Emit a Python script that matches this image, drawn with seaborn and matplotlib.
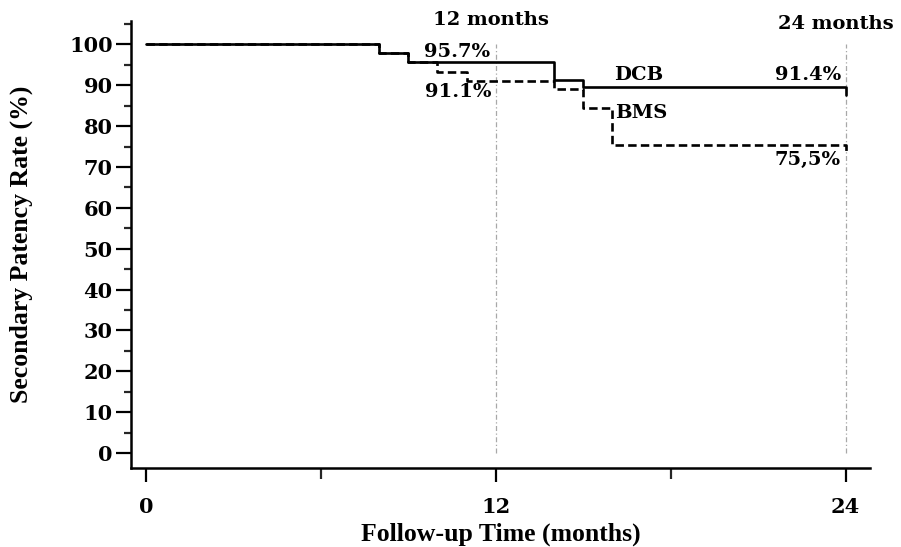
import matplotlib
matplotlib.use("Agg")
import matplotlib.pyplot as plt
import seaborn as sns
import pandas as pd
from matplotlib.ticker import MultipleLocator

# ---- data ----
dcb_time = [0, 8, 9, 14, 15, 24]
dcb_rate = [100, 97.9, 95.8, 91.3, 89.5, 87.6]
bms_time = [0, 8, 9, 10, 11, 14, 15, 16, 24]
bms_rate = [100, 97.9, 95.8, 93.3, 91.1, 89.0, 84.4, 75.4, 73.7]
x_ticks = [0, 12, 24]
y_ticks = list(range(0, 101, 10))
ref_months = [12, 24]
ref_labels = ["12 months", "24 months"]

sns.set_theme(style="ticks")
plt.rcParams['font.family'] = ['DejaVu Serif', 'DejaVu Sans']

fig = plt.figure(figsize=(9.01, 5.47), dpi=100)
ax = fig.add_axes([0.145, 0.1444, 0.8206, 0.8172])

df_dcb = pd.DataFrame({"t": dcb_time, "r": dcb_rate})
df_bms = pd.DataFrame({"t": bms_time, "r": bms_rate})

sns.lineplot(data=df_bms, x="t", y="r", ax=ax, drawstyle="steps-post",
             color="black", lw=1.9, linestyle=(0, (3.2, 1.6)),
             estimator=None, sort=False)
sns.lineplot(data=df_dcb, x="t", y="r", ax=ax, drawstyle="steps-post",
             color="black", lw=1.9, estimator=None, sort=False)

for m in ref_months:
    ax.vlines(m, 0, 100, colors="#a8a8a8", linestyles=(0, (4, 2, 1, 2)), lw=0.9, zorder=0)

ax.set_xlim(-0.525, 24.84)
ax.set_ylim(-3.67, 105.75)
ax.set_xticks(x_ticks)
ax.set_yticks(y_ticks)
ax.xaxis.set_minor_locator(MultipleLocator(6))
ax.yaxis.set_minor_locator(MultipleLocator(5))

for s in ["top", "right"]:
    ax.spines[s].set_visible(False)
for s in ["left", "bottom"]:
    ax.spines[s].set_linewidth(1.8)
    ax.spines[s].set_color("black")

ax.tick_params(axis="y", which="major", direction="out", length=11, width=1.6,
               pad=2, labelsize=15, colors="black")
ax.tick_params(axis="y", which="minor", direction="out", length=5, width=1.6)
ax.tick_params(axis="x", which="major", direction="out", length=10, width=1.6,
               pad=11, labelsize=15, colors="black")
ax.tick_params(axis="x", which="minor", direction="out", length=8, width=1.6)
for lab in ax.get_xticklabels() + ax.get_yticklabels():
    lab.set_fontweight("bold")

lab_font = dict(family=["Liberation Serif", "DejaVu Serif"], fontweight="bold",
                fontsize=18.5, color="black")
ax.set_xlabel("Follow-up Time (months)", labelpad=4, **lab_font)
ax.set_ylabel("Secondary Patency Rate (%)", labelpad=26, **lab_font)

tk = dict(fontsize=14, fontweight="bold", color="black", clip_on=False)
ax.text(11.84, 106.0, ref_labels[0], ha="center", va="center", **tk)
ax.text(23.67, 105.0, ref_labels[1], ha="center", va="center", **tk)
ax.text(10.69, 98.2, "95.7%", ha="center", va="center", **tk)
ax.text(10.70, 88.4, "91.1%", ha="center", va="center", **tk)
ax.text(16.9, 92.5, "DCB", ha="center", va="center", **tk)
ax.text(17.0, 83.2, "BMS", ha="center", va="center", **tk)
ax.text(23.84, 92.5, "91.4%", ha="right", va="center", **tk)
ax.text(23.84, 71.8, "75,5%", ha="right", va="center", **tk)

fig.savefig("out.png", dpi=100)
